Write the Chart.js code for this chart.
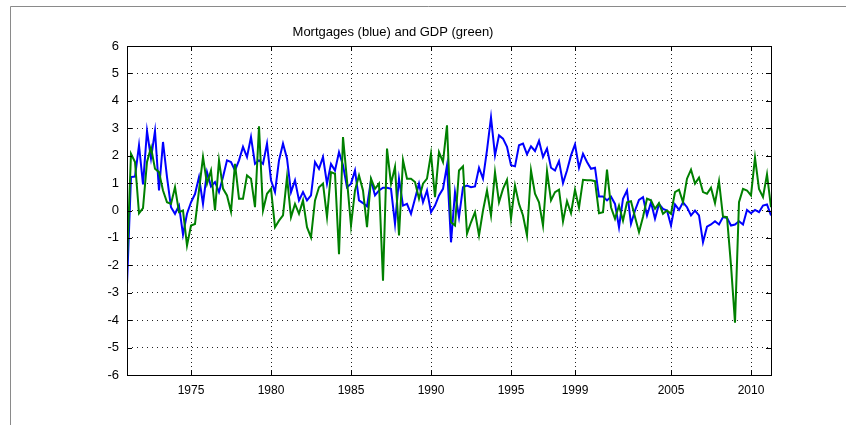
<!DOCTYPE html>
<html>
<head>
<meta charset="utf-8">
<script src="https://cdn.jsdelivr.net/npm/chart.js@4"></script>
<style>
  body { margin: 0; background: #fff; }
  #wrap { position: relative; width: 846px; height: 425px; }
</style>
</head>
<body>
<div id="wrap"><canvas id="grafico"></canvas></div>
<script>
// Dados trimestrais, 1971 T1 em diante
const anoInicial = 1971;
const mortgages = [
  -2.7, 1.22, 1.24, 2.38, 0.95, 2.9, 1.9, 2.9, 0.73, 2.5,
  1.22, 0.12, -0.12, 0.18, -0.88, -0.12, 0.3, 0.6, 1.22, 0.24,
  1.4, 0.88, 1.04, 0.67, 1.22, 1.83, 1.77, 1.46, 1.83, 2.32,
  1.95, 2.68, 1.7, 1.83, 1.7, 2.44, 1.1, 0.67, 1.83, 2.44,
  1.9, 0.67, 1.1, 0.37, 0.67, 0.37, 0.55, 1.77, 1.52, 1.95,
  0.98, 1.7, 1.46, 2.13, 1.65, 0.85, 0.98, 1.46, 0.37, 0.27,
  0.15, 1.1, 0.55, 0.73, 0.83, 0.83, 0.79, -0.49, 1.16, 0.18,
  0.24, -0.12, 0.43, 0.98, 0.3, 0.73, -0.06, 0.18, 0.55, 0.79,
  1.65, -1.16, 0.67, -0.24, 0.85, 0.91, 0.85, 0.88, 1.56, 1.16,
  2.2, 3.4, 2.01, 2.74, 2.62, 2.32, 1.65, 1.61, 2.38, 2.44,
  2.05, 2.34, 2.17, 2.54, 1.95, 2.26, 1.56, 1.46, 1.8, 1.0,
  1.46, 2.01, 2.41, 1.56, 2.07, 1.77, 1.52, 1.56, 0.51, 0.51,
  0.37, 0.51, 0.24, -0.61, 0.43, 0.73, -0.49, 0.0, 0.39, 0.49,
  -0.18, 0.3, -0.3, 0.24, 0.06, 0.0, -0.55, 0.22, 0.02, 0.3,
  0.12, -0.18, 0.0, -0.18, -1.16, -0.59, -0.51, -0.39, -0.51, -0.24,
  -0.27, -0.55, -0.51, -0.39, -0.51, 0.02, -0.1, 0.02, -0.06, 0.18,
  0.22, -0.18
];
const gdp = [
  -1.9, 2.07, 1.77, -0.1, 0.09, 1.77, 2.3, 1.52, 1.4, 0.73,
  0.3, 0.24, 0.85, -0.06, 0.0, -1.28, -0.55, -0.49, 0.73, 1.95,
  0.98, 1.46, 0.0, 1.83, 0.8, 0.55, -0.04, 1.7, 0.43, 0.43,
  1.28, 1.16, 0.12, 3.07, 0.0, 0.61, 0.79, -0.61, -0.37, -0.18,
  1.22, -0.24, 0.24, -0.12, 0.37, -0.61, -0.98, 0.37, 0.85, 0.98,
  -0.24, 1.4, 1.34, -1.59, 2.68, 1.1, -0.55, 0.73, 1.28, 0.73,
  -0.61, 1.16, 0.79, 0.98, -2.56, 2.26, 0.98, 1.59, -0.91, 1.83,
  1.16, 1.16, 1.04, 0.43, 0.98, 1.16, 2.07, 0.49, 2.13, 1.77,
  3.11, -0.43, -0.55, 1.46, 1.61, -0.85, -0.43, -0.06, -0.91, 0.0,
  0.73, -0.18, 1.4, 0.3, 0.79, 1.12, -0.3, 0.91, 0.24, -0.18,
  -0.91, 1.46, 0.61, 0.3, -0.55, 1.44, 0.37, 0.67, 0.76, -0.4,
  0.34, -0.1, 0.76, 0.1, 1.12, 1.1, 1.1, 1.07, -0.1, -0.06,
  1.49, 0.12, -0.3, 0.18, -0.37, 0.3, 0.34, -0.24, -0.79, -0.24,
  0.43, 0.37, 0.06, 0.27, -0.12, 0.0, -0.12, 0.67, 0.76, 0.3,
  1.16, 1.49, 0.98, 1.2, 0.67, 0.61, 0.83, 0.27, 1.07, -0.22,
  -0.24, -2.0, -4.09, 0.3, 0.79, 0.73, 0.55, 1.93, 0.79, 0.49,
  1.32, 0.12
];
const xTicks = [1975, 1980, 1985, 1990, 1995, 1999, 2005, 2010];
const yTicks = [-6, -5, -4, -3, -2, -1, 0, 1, 2, 3, 4, 5, 6];
const titulo = 'Mortgages (blue) and GDP (green)';

function pontos(serie) {
    return serie.map((v, i) => ({ x: anoInicial + i / 4, y: v }));
}

// Moldura do gráfico, marcas de escala e título
const molduraPlugin = {
    id: 'moldura',
    beforeDraw(chart) {
        const ctx = chart.ctx;
        ctx.save();
        ctx.strokeStyle = '#8a8a8a';
        ctx.lineWidth = 1;
        ctx.beginPath();
        ctx.moveTo(10.5, 425);
        ctx.lineTo(10.5, 6.5);
        ctx.lineTo(846, 6.5);
        ctx.stroke();
        ctx.restore();
    },
    afterDatasetsDraw(chart) {
        const ctx = chart.ctx;
        const a = chart.chartArea;
        const sx = chart.scales.x;
        const sy = chart.scales.y;
        ctx.save();
        ctx.strokeStyle = '#000';
        ctx.lineWidth = 1;
        ctx.strokeRect(Math.round(a.left) + 0.5, Math.round(a.top) + 0.5,
            Math.round(a.right - a.left), Math.round(a.bottom - a.top));
        ctx.beginPath();
        yTicks.forEach(v => {
            const y = Math.round(sy.getPixelForValue(v)) + 0.5;
            ctx.moveTo(a.left, y); ctx.lineTo(a.left + 5, y);
            ctx.moveTo(a.right, y); ctx.lineTo(a.right - 5, y);
        });
        xTicks.forEach(v => {
            const x = Math.round(sx.getPixelForValue(v)) + 0.5;
            ctx.moveTo(x, a.bottom); ctx.lineTo(x, a.bottom - 5);
            ctx.moveTo(x, a.top); ctx.lineTo(x, a.top + 5);
        });
        ctx.stroke();
        ctx.restore();
    },
    afterDraw(chart) {
        const ctx = chart.ctx;
        ctx.save();
        ctx.fillStyle = '#000';
        ctx.font = '13px "Liberation Sans", Arial, sans-serif';
        ctx.textAlign = 'center';
        ctx.textBaseline = 'middle';
        ctx.fillText(titulo, 393, 32);
        ctx.restore();
    }
};

new Chart(document.getElementById('grafico'), {
    type: 'line',
    data: {
        datasets: [
            {
                label: 'GDP',
                data: pontos(gdp),
                borderColor: '#008000',
                borderWidth: 2,
                pointRadius: 0,
                tension: 0,
                order: 0
            },
            {
                label: 'Mortgages',
                data: pontos(mortgages),
                borderColor: '#0000ff',
                borderWidth: 2,
                pointRadius: 0,
                tension: 0,
                order: 1
            }
        ]
    },
    options: {
        responsive: true,
        maintainAspectRatio: false,
        animation: false,
        layout: { padding: { left: 0, right: 75, top: 46, bottom: 0 } },
        plugins: {
            legend: { display: false },
            tooltip: { enabled: false },
            title: { display: false }
        },
        scales: {
            x: {
                type: 'linear',
                min: anoInicial,
                max: anoInicial + (mortgages.length - 1) / 4,
                afterBuildTicks: axis => { axis.ticks = xTicks.map(v => ({ value: v })); },
                afterFit: scale => { scale.height = 50; },
                grid: { color: '#222', lineWidth: 1, drawTicks: false },
                border: { display: false, dash: [1, 3] },
                ticks: {
                    color: '#000',
                    padding: 8,
                    maxRotation: 0,
                    autoSkip: false,
                    font: { family: '"Liberation Sans Narrow", "Liberation Sans", Arial', size: 12 },
                    callback: v => String(v)
                }
            },
            y: {
                min: -6,
                max: 6,
                afterBuildTicks: axis => { axis.ticks = yTicks.map(v => ({ value: v })); },
                afterFit: scale => { scale.width = 127; },
                grid: { color: '#222', lineWidth: 1, drawTicks: false },
                border: { display: false, dash: [1, 4] },
                ticks: {
                    color: '#000',
                    padding: 8,
                    font: { family: '"Liberation Sans", Arial', size: 13 }
                }
            }
        }
    },
    plugins: [molduraPlugin]
});
</script>
</body>
</html>
